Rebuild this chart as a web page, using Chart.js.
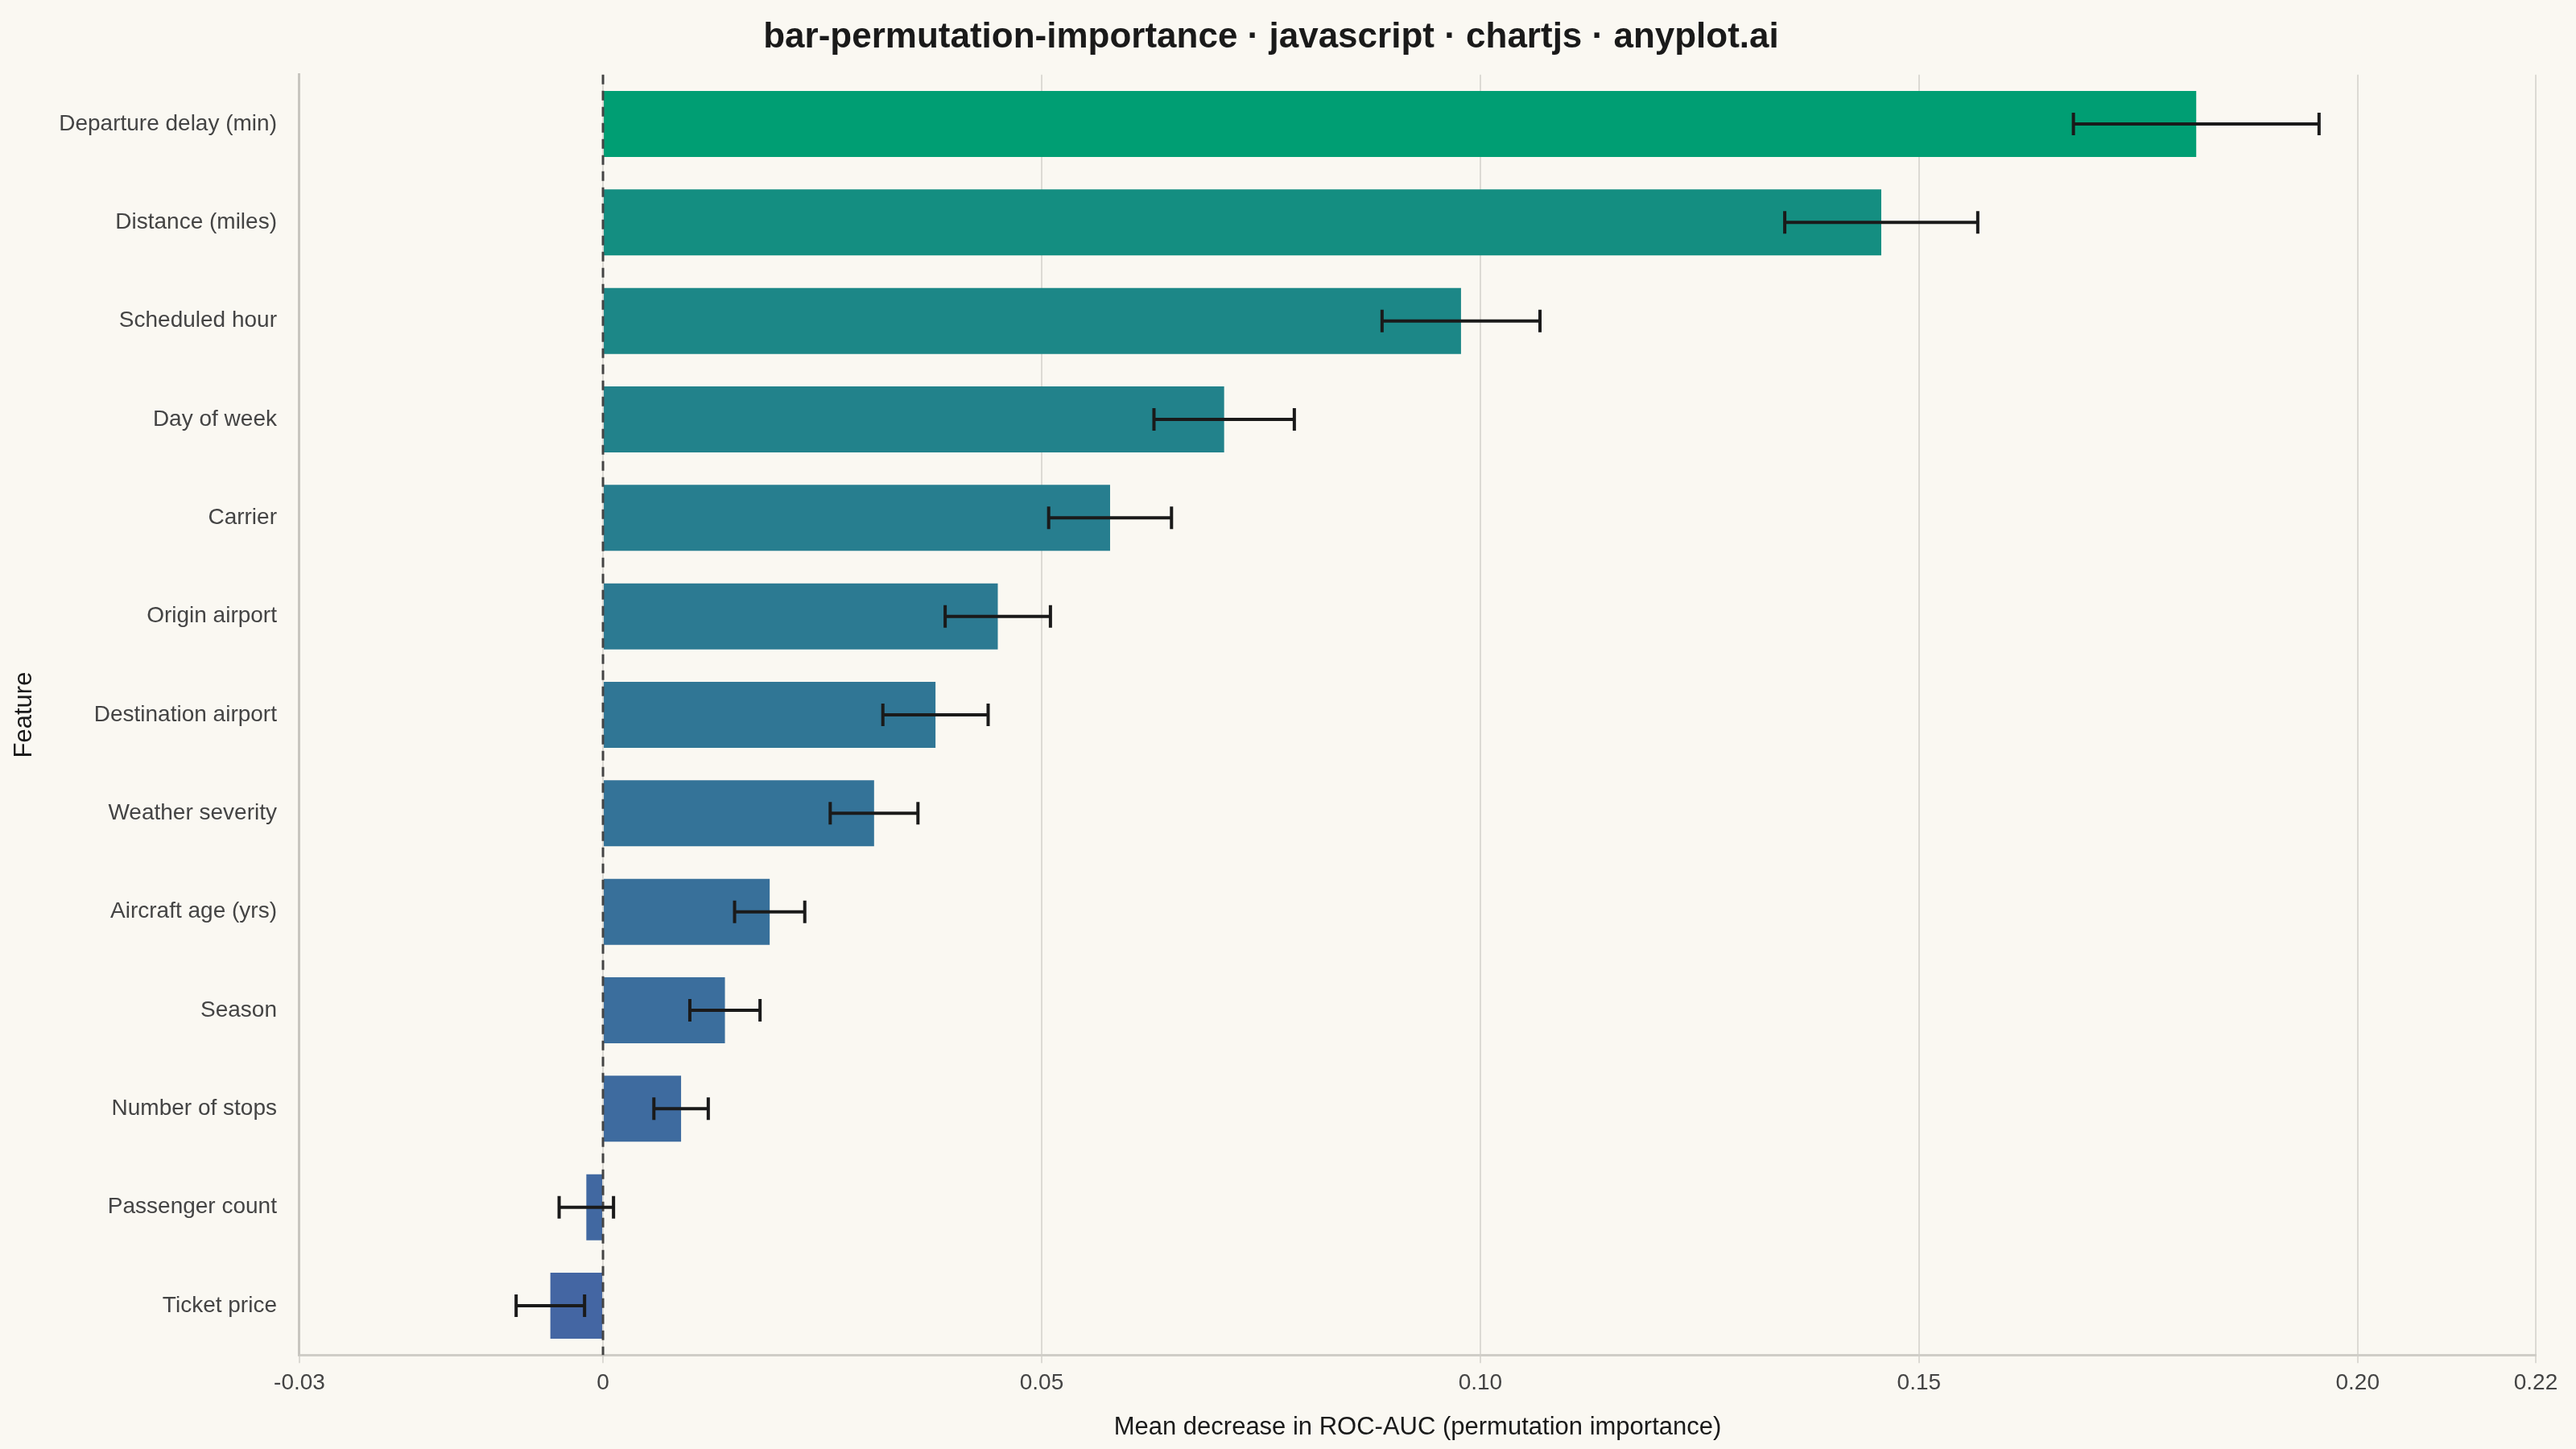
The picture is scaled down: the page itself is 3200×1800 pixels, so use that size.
<!DOCTYPE html>
<html>
<head>
<meta charset="utf-8">
<script src="https://cdn.jsdelivr.net/npm/chart.js@4/dist/chart.umd.min.js"></script>
<style>
	html, body { margin: 0; padding: 0; background: #faf8f2; }
	#wrap { width: 3200px; height: 1800px; }
</style>
</head>
<body>
<div id="wrap"><canvas id="chart" width="3200" height="1800"></canvas></div>
<script>
const features = [
	"Departure delay (min)", "Distance (miles)", "Scheduled hour", "Day of week", "Carrier",
	"Origin airport", "Destination airport", "Weather severity", "Aircraft age (yrs)", "Season",
	"Number of stops", "Passenger count", "Ticket price",
];
const importanceMean = [0.1816, 0.1457, 0.0978, 0.0708, 0.0578, 0.0450, 0.0379, 0.0309, 0.0190, 0.0139, 0.0089, -0.0019, -0.0060];
const importanceStd = [0.0140, 0.0110, 0.0090, 0.0080, 0.0070, 0.0060, 0.0060, 0.0050, 0.0040, 0.0040, 0.0031, 0.0031, 0.0039];
const xMin = -0.0346;
const xMax = 0.2203;
const xTicks = [xMin, 0, 0.05, 0.10, 0.15, 0.20, xMax];

// green -> blue gradient by rank
function barColor(i, n) {
	const a = [0, 158, 115], b = [68, 102, 163];
	const t = i / (n - 1);
	const c = a.map((v, k) => Math.round(v + (b[k] - v) * Math.pow(t, 0.5)));
	return `rgb(${c[0]}, ${c[1]}, ${c[2]})`;
}
const colors = features.map((_, i) => barColor(i, features.length));

const overlayPlugin = {
	id: "overlay",
	afterDatasetsDraw(chart) {
		const ctx = chart.ctx;
		const x = chart.scales.x, y = chart.scales.y;
		const area = chart.chartArea;
		// zero reference line
		ctx.save();
		ctx.strokeStyle = "#444";
		ctx.lineWidth = 3;
		ctx.setLineDash([12, 8]);
		ctx.beginPath();
		ctx.moveTo(x.getPixelForValue(0), area.top);
		ctx.lineTo(x.getPixelForValue(0), area.bottom);
		ctx.stroke();
		ctx.restore();
		// error bars
		ctx.save();
		ctx.strokeStyle = "#1a1a1a";
		ctx.lineWidth = 4;
		importanceMean.forEach((m, i) => {
			const py = y.getPixelForValue(i);
			const x0 = x.getPixelForValue(m - importanceStd[i]);
			const x1 = x.getPixelForValue(m + importanceStd[i]);
			ctx.beginPath();
			ctx.moveTo(x0, py); ctx.lineTo(x1, py);
			ctx.moveTo(x0, py - 14); ctx.lineTo(x0, py + 14);
			ctx.moveTo(x1, py - 14); ctx.lineTo(x1, py + 14);
			ctx.stroke();
		});
		ctx.restore();
	},
};

new Chart(document.getElementById("chart").getContext("2d"), {
	type: "bar",
	data: {
		labels: features,
		datasets: [{
			data: importanceMean,
			backgroundColor: colors,
			borderWidth: 0,
			barPercentage: 0.67,
			categoryPercentage: 1,
		}],
	},
	options: {
		indexAxis: "y",
		responsive: false,
		animation: false,
		devicePixelRatio: 1,
		layout: { padding: { top: 4, right: 50, bottom: 4, left: 8 } },
		plugins: {
			legend: { display: false },
			tooltip: { enabled: false },
			title: {
				display: true,
				text: "bar-permutation-importance · javascript · chartjs · anyplot.ai",
				color: "#1a1a1a",
				font: { family: "Liberation Sans", size: 44, weight: "bold" },
				padding: { top: 16, bottom: 20 },
			},
		},
		scales: {
			x: {
				type: "linear",
				min: xMin,
				max: xMax,
				afterBuildTicks: (axis) => { axis.ticks = xTicks.map(v => ({ value: v })); },
				ticks: {
					color: "#444",
					font: { family: "Liberation Sans", size: 28 },
					padding: 8,
					callback: (v) => v === 0 ? "0" : Number(v).toFixed(2),
				},
				grid: { color: "#dcdad4", lineWidth: 2, drawTicks: true, tickLength: 10 },
				border: { color: "#cfcdc7", width: 3 },
				title: {
					display: true,
					text: "Mean decrease in ROC-AUC (permutation importance)",
					color: "#1a1a1a",
					font: { family: "Liberation Sans", size: 31 },
					padding: { top: 12, bottom: 4 },
				},
			},
			y: {
				ticks: {
					color: "#444",
					font: { family: "Liberation Sans", size: 28 },
					padding: 20,
				},
				grid: { display: false },
				border: { color: "#c8c6c0", width: 3 },
				title: {
					display: true,
					text: "Feature",
					color: "#1a1a1a",
					font: { family: "Liberation Sans", size: 31 },
				},
			},
		},
	},
	plugins: [overlayPlugin],
});
</script>
</body>
</html>
